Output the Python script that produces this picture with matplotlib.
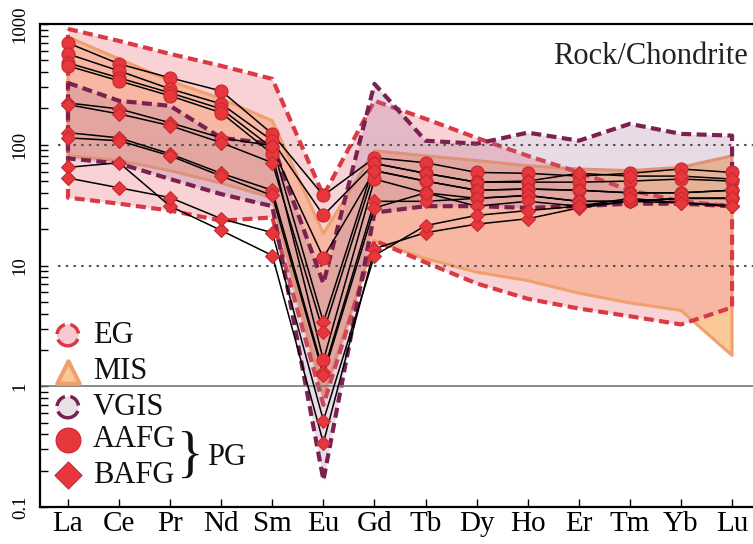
import numpy as np
import matplotlib.pyplot as plt
from matplotlib.ticker import LogLocator, NullFormatter

plt.rcParams['font.family'] = ['Liberation Serif', 'DejaVu Serif']

elements = ['La', 'Ce', 'Pr', 'Nd', 'Sm', 'Eu', 'Gd', 'Tb', 'Dy', 'Ho', 'Er', 'Tm', 'Yb', 'Lu']

# envelopes (upper / lower), chondrite normalised
eg_up = [910, 724, 565, 450, 351, 38, 231, 164, 114, 81, 59, 42, 34, 31]
eg_low = [36.5, 32.5, 28.5, 23.5, 25, 0.70, 16.1, 10.6, 7.1, 5.3, 4.4, 3.8, 3.25, 4.5]

mis_up = [781, 514, 338, 240, 158, 18.4, 89, 81, 74, 67, 63, 61, 65, 81]
mis_low = [81, 74, 61, 48, 36.5, 0.84, 16.1, 11.4, 8.8, 7.5, 5.9, 4.9, 4.25, 1.8]

vgis_up = [325, 231, 210, 114, 102, 7.1, 319, 108, 102, 126, 108, 149, 123, 119]
vgis_low = [77, 70, 52, 39, 31, 0.167, 27.4, 31, 31, 30, 31, 32.5, 32.5, 31]

# PG samples
aafg = [
    [697, 467, 358, 279, 123, 38, 78, 71, 59, 58, 55, 58, 63, 59],
    [565, 409, 290, 218, 108, 26, 70, 58, 49, 49, 49, 50, 52, 50],
    [476, 358, 269, 198, 94, 11.6, 61, 50, 42, 43, 42, 40, 40, 42],
    [450, 338, 254, 184, 84, 1.64, 52, 40, 36, 38, 34, 34, 36, 36],
]
bafg = [
    [222, 198, 152, 114, 98, 3.4, 70, 58, 49, 50, 58, 55, 55, 52],
    [215, 180, 144, 104, 71, 2.8, 61, 50, 42, 43, 42, 40, 40, 42],
    [126, 114, 84, 58, 42, 1.31, 34, 34, 36, 38, 34, 34, 36, 36],
    [114, 108, 81, 55, 38, 1.23, 30, 40, 31, 34, 31, 34, 33, 31],
    [65, 71, 31, 19.5, 12.1, 0.34, 13.8, 18.7, 22, 24.4, 30, 34, 36, 36],
    [53, 44, 36.5, 24.4, 18.7, 0.52, 12.1, 21.4, 26, 28.5, 31, 36, 33, 31],
]

x = np.arange(len(elements))

fig = plt.figure(figsize=(7.53, 5.44), dpi=100)
ax = fig.add_axes([40 / 753, 37 / 544, 713 / 753, 483 / 544])
ax.set_yscale('log')
ax.set_ylim(0.1, 1000)
ax.set_xlim(-0.548, 13.41)


def outline(up, low):
    xs = np.r_[x, x[::-1], x[0]]
    ys = np.r_[up, low[::-1], up[0]]
    return xs, ys


red_dash = (0, (2.4, 1.3))

# MIS
ax.fill_between(x, mis_low, mis_up, color='#f99d42', alpha=0.55, lw=0, zorder=1)
# EG
ax.fill_between(x, eg_low, eg_up, color='#f4a7ae', alpha=0.5, lw=0, zorder=1.1)
xs, ys = outline(mis_up, mis_low)
ax.plot(xs, ys, color='#f0a06c', lw=2.2, zorder=1.2, solid_joinstyle='round')
xs, ys = outline(eg_up, eg_low)
ax.plot(xs, ys, color='#d93a45', lw=3, ls=red_dash, zorder=1.3)
# VGIS
ax.fill_between(x, vgis_low, vgis_up, color='#a7709b', alpha=0.25, lw=0, zorder=1.4)
xs, ys = outline(vgis_up, vgis_low)
ax.plot(xs, ys, color='#7b2150', lw=3, ls=red_dash, zorder=1.5)

# reference lines
ax.axhline(100, xmin=0.025, color='#555555', lw=1.5, ls=(0, (1.2, 2.5)), zorder=1.6)
ax.axhline(10, xmin=0.025, color='#555555', lw=1.5, ls=(0, (1.2, 2.5)), zorder=1.6)
ax.axhline(1, color='#777777', lw=1.2, zorder=1.6)

for s in aafg:
    ax.plot(x, s, color='black', lw=1.1, zorder=3)
for s in bafg:
    ax.plot(x, s, color='black', lw=1.1, zorder=3)
for s in aafg:
    ax.plot(x, s, ls='none', marker='o', ms=9.4, mfc='#e8363d', mec='#c52a31', mew=0.8, zorder=4)
for s in bafg:
    ax.plot(x, s, ls='none', marker='D', ms=7.3, mfc='#e8363d', mec='#c52a31', mew=0.8, zorder=4)

# axes styling
ax.spines['right'].set_visible(False)
for sp in ['left', 'bottom', 'top']:
    ax.spines[sp].set_linewidth(1.6)
ax.set_xticks(x)
ax.set_xticklabels(elements, fontsize=21)
ax.set_yticks([0.1, 1, 10, 100, 1000])
ax.set_yticklabels(['0.1', '1', '10', '100', '1000'], rotation=90, va='center', fontsize=13.5)
ax.yaxis.set_minor_locator(LogLocator(base=10, subs=np.arange(2, 10)))
ax.yaxis.set_minor_formatter(NullFormatter())
ax.tick_params(axis='x', direction='in', length=6, width=1, pad=3, top=False)
ax.tick_params(axis='y', which='both', direction='in', length=6, width=1, pad=8, right=False)

ax.text(0.993, 0.932, 'Rock/Chondrite', transform=ax.transAxes, ha='right', va='center',
        fontsize=22, color='#222222')

# legend drawn by hand
lx, tx = 0.039, 0.074
rows = [0.356, 0.280, 0.207, 0.139, 0.066]
ax.scatter([lx], [rows[0]], s=240, marker='o', facecolor='#f8c9cf', edgecolor='#d93a45',
           linewidths=2.5, linestyles='--', transform=ax.transAxes, zorder=5, clip_on=False)
ax.scatter([lx], [rows[1]], s=260, marker='^', facecolor='#fcc797', edgecolor='#f0a06c',
           linewidths=3, transform=ax.transAxes, zorder=5, clip_on=False)
ax.scatter([lx], [rows[2]], s=240, marker='o', facecolor='#e8e2e7', edgecolor='#7b2150',
           linewidths=2.5, linestyles='--', transform=ax.transAxes, zorder=5, clip_on=False)
ax.scatter([lx], [rows[3]], s=320, marker='o', facecolor='#e8363d', edgecolor='#c52a31',
           linewidths=0.8, transform=ax.transAxes, zorder=5, clip_on=False)
ax.scatter([lx], [rows[4]], s=190, marker='D', facecolor='#e8363d', edgecolor='#c52a31',
           linewidths=0.8, transform=ax.transAxes, zorder=5, clip_on=False)
for r, lab in zip(rows, ['EG', 'MIS', 'VGIS', 'AAFG', 'BAFG']):
    ax.text(tx, r, lab, transform=ax.transAxes, ha='left', va='center', fontsize=22,
            color='#111111', zorder=5)
ax.text(0.211, (rows[3] + rows[4]) / 2, '}', transform=ax.transAxes, ha='center', va='center',
        fontsize=40, color='#111111', zorder=5)
ax.text(0.234, (rows[3] + rows[4]) / 2, 'PG', transform=ax.transAxes, ha='left', va='center',
        fontsize=22, color='#111111', zorder=5)

fig.savefig('out.png', dpi=100)
